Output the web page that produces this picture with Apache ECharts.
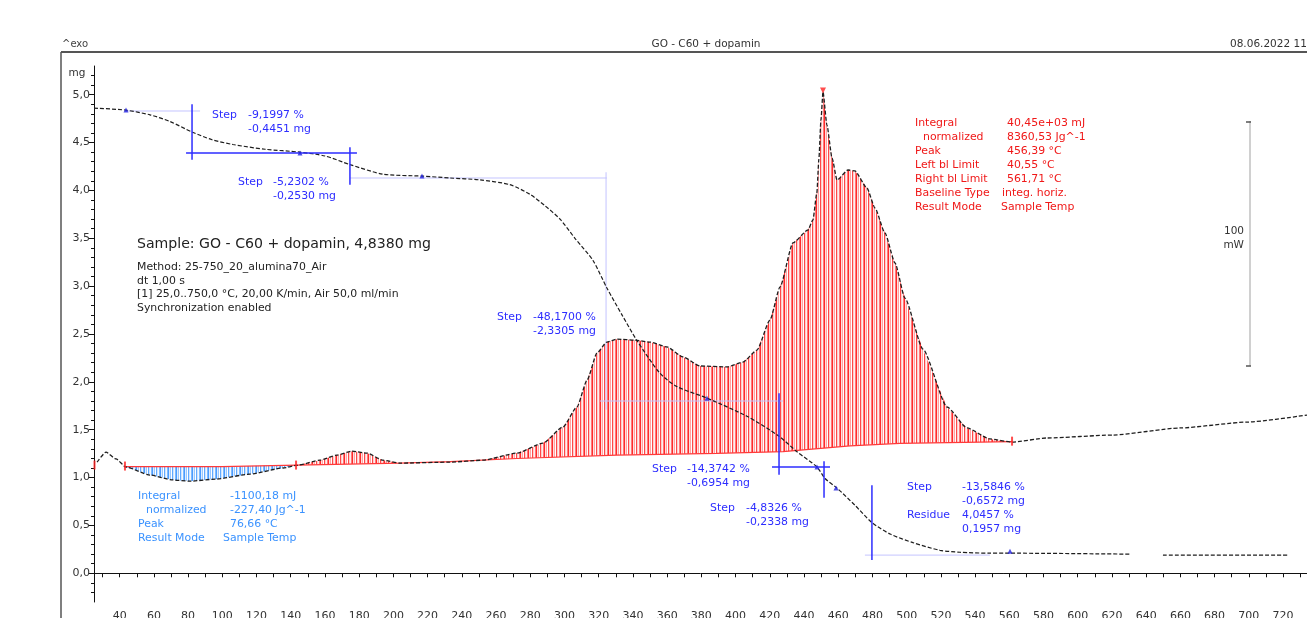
<!DOCTYPE html>
<html>
<head>
<meta charset="utf-8">
<title>GO - C60 + dopamin</title>
<script src="https://cdn.jsdelivr.net/npm/echarts@6/dist/echarts.min.js"></script>
<style>
html, body { margin: 0; padding: 0; background: #fff; }
#chart { width: 1307px; height: 618px; }
</style>
</head>
<body>
<div id="chart"></div>
<script>
// TG curve: sample temperature (°C) / mass (mg)
const tgTemp = [25.0, 43.1, 57.7, 69.4, 82.3, 94.0, 106.2, 125.0, 145.4, 160.0, 174.6, 193.9, 216.7, 233.1, 250.6, 268.1, 279.8, 288.6, 297.4, 306.1, 316.6, 324.8, 333.6, 342.4, 355.8, 365.8, 383.3, 406.7, 424.8, 435.9, 447.6, 452.3, 459.3, 469.8, 479.7, 490.3, 503.7, 519.5, 531.2, 548.7, 560.4, 630.5, 640.0, 649.8, 722.9];
const tgMass = [4.86, 4.84, 4.79, 4.72, 4.61, 4.53, 4.48, 4.43, 4.40, 4.36, 4.27, 4.17, 4.15, 4.13, 4.11, 4.06, 3.96, 3.84, 3.70, 3.50, 3.27, 2.98, 2.70, 2.43, 2.09, 1.95, 1.83, 1.64, 1.44, 1.27, 1.11, 0.99, 0.89, 0.71, 0.53, 0.41, 0.32, 0.24, 0.22, 0.21, 0.21, 0.20, null, 0.19, 0.19];

// DSC curve: temperature (°C) / heat flow (mW, relative)
const dscTemp = [26.8, 32.0, 37.9, 43.7, 57.7, 71.2, 81.1, 96.9, 116.2, 135.5, 144.2, 157.1, 167.0, 175.8, 184.6, 193.9, 203.9, 233.1, 252.4, 272.2, 287.4, 299.1, 307.3, 313.2, 319.0, 324.8, 330.7, 341.2, 350.0, 359.9, 369.3, 379.2, 395.0, 404.3, 412.5, 420.1, 426.0, 433.5, 442.3, 445.2, 447.5, 448.7, 449.9, 451.1, 453.4, 456.4, 459.3, 465.7, 469.8, 476.8, 481.5, 487.3, 493.2, 499.0, 509.5, 523.6, 535.3, 548.7, 561.6, 582.0, 620.6, 659.7, 698.9, 734.0];
const dscFlow = [1.2, 5.3, 2.5, -0.8, -4.1, -6.1, -6.6, -5.7, -3.7, -1.2, 0, 2.0, 4.1, 5.7, 4.9, 2.0, 0.8, 1.2, 2.0, 4.9, 9.0, 15.6, 23.8, 34.8, 45.9, 50.4, 51.6, 51.2, 50.4, 48.4, 44.3, 40.6, 40.2, 42.2, 47.1, 59.4, 73.0, 91.0, 96.3, 100.4, 111.5, 125.4, 141.4, 152.9, 139.3, 125.8, 116.8, 120.9, 120.5, 113.5, 105.3, 95.1, 82.8, 68.4, 47.5, 23.8, 15.2, 10.7, 9.4, 11.1, 12.3, 15.2, 17.6, 20.5];

// integration baseline
const baseTemp = [43.7, 99.8, 143.7, 203.9, 233.1, 272.2, 330.7, 389.1, 427.7, 466.9, 496.1, 561.6];
const baseFlow = [-0.6, -0.6, 0, 0.8, 1.4, 2.7, 4.1, 4.8, 5.5, 7.9, 8.9, 9.6];

// integrated ranges: endotherm (blue), exotherm (red)
const fillRanges = [[43.7, 143.7], [143.7, 561.6]];

// evaluation points
const tgMarkTemp = [43.7, 145.4, 216.7, 383.3, 447.6, 458.7, 560.4];
const tgMarkMass = [4.84, 4.39, 4.15, 1.83, 1.11, 0.89, 0.23];
const dscMarkTemp = [25.3, 43.1, 143.1, 561.6];
const dscMarkFlow = [0, -0.4, 0, 9.8];
const dscPeakTemp = [451.1];
const dscPeakFlow = [153.5];

// step evaluation lines [[T, mg], [T, mg]]
const stepLinesStrong = [
  [[82.3, 4.90], [82.3, 4.32]],
  [[78.8, 4.39], [178.7, 4.39]],
  [[174.6, 4.45], [174.6, 4.06]],
  [[425.4, 1.88], [425.4, 1.03]],
  [[421.3, 1.11], [455.2, 1.11]],
  [[451.7, 1.17], [451.7, 0.79]],
  [[479.7, 0.92], [479.7, 0.14]]
];
const stepLinesFaint = [
  [[43.1, 4.83], [87.0, 4.83]],
  [[174.6, 4.13], [324.8, 4.13]],
  [[324.3, 4.19], [324.3, 1.71]],
  [[320.7, 1.80], [427.7, 1.80]],
  [[475.6, 0.19], [548.7, 0.19]]
];

const xLabelValues = [40, 60, 80, 100, 120, 140, 160, 180, 200, 220, 240, 260, 280, 300, 320, 340, 360, 380, 400, 420, 440, 460, 480, 500, 520, 540, 560, 580, 600, 620, 640, 660, 680, 700, 720];
const xTickValues = Array.from({ length: 71 }, (_, i) => 30 + i * 10);
const yLabelValues = [0, 0.5, 1.0, 1.5, 2.0, 2.5, 3.0, 3.5, 4.0, 4.5, 5.0];
const yMinorValues = Array.from({ length: 55 }, (_, i) => +(-0.2 + i * 0.1).toFixed(1));

// texts
const headerTexts = ['^exo', 'GO - C60 + dopamin', '08.06.2022 11'];
const sampleTitle = 'Sample: GO - C60 + dopamin, 4,8380 mg';
const sampleLines = ['Method: 25-750_20_alumina70_Air', 'dt 1,00 s', '[1] 25,0..750,0 °C, 20,00 K/min, Air 50,0 ml/min', 'Synchronization enabled'];
const redNames = ['Integral', 'normalized', 'Peak', 'Left bl Limit', 'Right bl Limit', 'Baseline Type', 'Result Mode'];
const redValues = ['40,45e+03 mJ', '8360,53 Jg^-1', '456,39 °C', '40,55 °C', '561,71 °C', 'integ. horiz.', 'Sample Temp'];
const blueNames = ['Integral', 'normalized', 'Peak', 'Result Mode'];
const blueValues = ['-1100,18 mJ', '-227,40 Jg^-1', '76,66 °C', 'Sample Temp'];
const stepValues = [
  ['-9,1997 %', '-0,4451 mg'],
  ['-5,2302 %', '-0,2530 mg'],
  ['-48,1700 %', '-2,3305 mg'],
  ['-14,3742 %', '-0,6954 mg'],
  ['-4,8326 %', '-0,2338 mg'],
  ['-13,5846 %', '-0,6572 mg']
];
const residueValues = ['4,0457 %', '0,1957 mg'];
const scaleText = ['100', 'mW'];

const FONT = '"DejaVu Sans", Verdana, sans-serif';
const STEP_BLUE = '#2d2dff';
const TXT = 10.9;

function stripes(colors) {
  const c = document.createElement('canvas');
  c.width = colors.length;
  c.height = 4;
  const ctx = c.getContext('2d');
  colors.forEach((col, i) => {
    ctx.fillStyle = col;
    ctx.fillRect(i, 0, 1, 4);
  });
  return { image: c, repeat: 'repeat' };
}

const fillPatterns = [
  stripes(['#4a9cff', '#dcecff', '#9ac8ff', '#ffffff', '#62aaff', '#cfe5ff', '#f2f8ff', '#80bbff']),
  stripes(['#ff2a2a', '#ffdcdc', '#ffa4a4', '#ffffff', '#ff4848', '#ffcccc', '#ffeeee', '#ff7a7a'])
];

function txt(x, y, s, color, size, align) {
  return {
    type: 'text', x: x, y: y, silent: true,
    style: {
      text: s, fill: color, fontSize: size || TXT, fontFamily: FONT,
      align: align || 'left', verticalAlign: 'middle'
    }
  };
}

const graphics = [];
// frame
graphics.push({ type: 'line', shape: { x1: 61, y1: 52, x2: 1307, y2: 52 }, style: { stroke: '#555', lineWidth: 2 }, silent: true });
graphics.push({ type: 'line', shape: { x1: 61, y1: 52, x2: 61, y2: 618 }, style: { stroke: '#555', lineWidth: 1.5 }, silent: true });
// header
graphics.push(txt(62, 44, headerTexts[0], '#444', 10));
graphics.push(txt(706, 44, headerTexts[1], '#333', 10.5, 'center'));
graphics.push(txt(1230, 44, headerTexts[2], '#333', 10.5));
graphics.push(txt(77, 73, 'mg', '#333', 10.5, 'center'));
// sample info
graphics.push(txt(137, 244, sampleTitle, '#222', 14.1));
sampleLines.forEach((s, i) => graphics.push(txt(137, 267 + i * 13.7, s, '#222', TXT)));
// red DSC result
redNames.forEach((s, i) => graphics.push(txt(i === 1 ? 923 : 915, 123 + i * 14, s, '#f01818')));
redValues.forEach((s, i) => graphics.push(txt(i === 5 ? 1002 : (i === 6 ? 1001 : 1007), 123 + i * 14, s, '#f01818')));
// blue DSC result
blueNames.forEach((s, i) => graphics.push(txt(i === 1 ? 146 : 138, 496 + i * 14, s, '#3a92ff')));
blueValues.forEach((s, i) => graphics.push(txt(i === 3 ? 223 : 230, 496 + i * 14, s, '#3a92ff')));
// step texts
const stepPos = [[212, 248, 115], [238, 273, 182], [497, 533, 317], [652, 687, 469], [710, 746, 508], [907, 962, 487]];
stepValues.forEach((v, i) => {
  const p = stepPos[i];
  graphics.push(txt(p[0], p[2], 'Step', STEP_BLUE));
  graphics.push(txt(p[1], p[2], v[0], STEP_BLUE));
  graphics.push(txt(p[1], p[2] + 14, v[1], STEP_BLUE));
});
graphics.push(txt(907, 515, 'Residue', STEP_BLUE));
graphics.push(txt(962, 515, residueValues[0], STEP_BLUE));
graphics.push(txt(962, 529, residueValues[1], STEP_BLUE));
// 100 mW scale bar
graphics.push({ type: 'line', shape: { x1: 1250, y1: 121, x2: 1250, y2: 366 }, style: { stroke: '#d0d0d0', lineWidth: 2 }, silent: true });
graphics.push({ type: 'line', shape: { x1: 1246, y1: 122, x2: 1251, y2: 122 }, style: { stroke: '#555', lineWidth: 1.5 }, silent: true });
graphics.push({ type: 'line', shape: { x1: 1246, y1: 366, x2: 1251, y2: 366 }, style: { stroke: '#555', lineWidth: 1.5 }, silent: true });
graphics.push(txt(1244, 231, scaleText[0], '#333', 10.5, 'right'));
graphics.push(txt(1244, 245, scaleText[1], '#333', 10.5, 'right'));

const zip = (a, b) => a.map((v, i) => [v, b[i]]);
const fmt = v => v.toFixed(1).replace('.', ',');

const series = [];
// hatched integration areas
series.push({
  type: 'custom', xAxisIndex: 0, yAxisIndex: 2, silent: true, z: 1, clip: true,
  data: fillRanges.map(r => [r[0], 0]),
  renderItem: (params, api) => {
    const r = fillRanges[params.dataIndex];
    const pts = [];
    dscTemp.forEach((t, i) => {
      if (t >= r[0] && t <= r[1]) pts.push(api.coord([t, dscFlow[i]]));
    });
    for (let i = baseTemp.length - 1; i >= 0; i--) {
      if (baseTemp[i] >= r[0] && baseTemp[i] <= r[1]) pts.push(api.coord([baseTemp[i], baseFlow[i]]));
    }
    return { type: 'polygon', shape: { points: pts }, style: { fill: fillPatterns[params.dataIndex], stroke: null } };
  }
});
// baseline
series.push({
  type: 'line', xAxisIndex: 0, yAxisIndex: 2, data: zip(baseTemp, baseFlow), symbol: 'none', z: 2,
  lineStyle: { color: '#ff3a3a', width: 1.2 }, silent: true
});
// DSC curve
series.push({
  type: 'line', xAxisIndex: 0, yAxisIndex: 2, data: zip(dscTemp, dscFlow), symbol: 'none', z: 3,
  smooth: 0.2, smoothMonotone: 'x',
  lineStyle: { color: '#1e1e1e', width: 1.3, type: [4, 2] }, silent: true
});
// TG curve
series.push({
  type: 'line', xAxisIndex: 0, yAxisIndex: 0, data: zip(tgTemp, tgMass), symbol: 'none', z: 3,
  smooth: 0.25, connectNulls: false,
  lineStyle: { color: '#1e1e1e', width: 1.2, type: [4, 2] }, silent: true
});
// step lines
stepLinesStrong.forEach(seg => series.push({
  type: 'line', xAxisIndex: 0, yAxisIndex: 0, data: seg, symbol: 'none', z: 4, silent: true,
  lineStyle: { color: STEP_BLUE, width: 1.5 }
}));
stepLinesFaint.forEach(seg => series.push({
  type: 'line', xAxisIndex: 0, yAxisIndex: 0, data: seg, symbol: 'none', z: 2, silent: true,
  lineStyle: { color: '#c4c4ff', width: 1 }
}));
// markers
series.push({
  type: 'scatter', xAxisIndex: 0, yAxisIndex: 0, data: zip(tgMarkTemp, tgMarkMass), z: 5, silent: true,
  symbol: 'triangle', symbolSize: 5, itemStyle: { color: '#2020e0' }
});
series.push({
  type: 'scatter', xAxisIndex: 0, yAxisIndex: 2, data: zip(dscMarkTemp, dscMarkFlow), z: 5, silent: true,
  symbol: 'rect', symbolSize: [2, 9], itemStyle: { color: '#ff2020' }
});
series.push({
  type: 'scatter', xAxisIndex: 0, yAxisIndex: 2, data: zip(dscPeakTemp, dscPeakFlow), z: 5, silent: true,
  symbol: 'triangle', symbolRotate: 180, symbolSize: 6, itemStyle: { color: '#ff2020' }
});

const option = {
  animation: false,
  backgroundColor: '#fff',
  grid: { left: 94, right: 0, top: 66, bottom: 16, containLabel: false, outerBoundsMode: 'none' },
  xAxis: {
    type: 'value', min: 25, max: 734,
    axisLine: { lineStyle: { color: '#111', width: 1 } },
    axisTick: { customValues: xTickValues, length: 4, lineStyle: { color: '#111' } },
    axisLabel: { customValues: xLabelValues, fontSize: 11, color: '#333', margin: 9, fontFamily: FONT },
    splitLine: { show: false }
  },
  yAxis: [
    {
      type: 'value', min: -0.3, max: 5.3, position: 'left',
      axisLine: { show: true, lineStyle: { color: '#111', width: 1 } },
      axisTick: { show: true, customValues: yLabelValues, length: 5, lineStyle: { color: '#111' } },
      axisLabel: { customValues: yLabelValues, formatter: fmt, fontSize: 11, color: '#333', margin: 4, fontFamily: FONT },
      splitLine: { show: false }
    },
    {
      type: 'value', min: -0.3, max: 5.3, position: 'left',
      axisLine: { show: false },
      axisTick: { show: true, customValues: yMinorValues, length: 3, lineStyle: { color: '#111' } },
      axisLabel: { show: false },
      splitLine: { show: false }
    },
    {
      type: 'value', min: -56.1, max: 163.5, show: false,
      splitLine: { show: false }
    }
  ],
  graphic: graphics,
  series: series
};

const chart = echarts.init(document.getElementById('chart'));
chart.setOption(option);
</script>
</body>
</html>
